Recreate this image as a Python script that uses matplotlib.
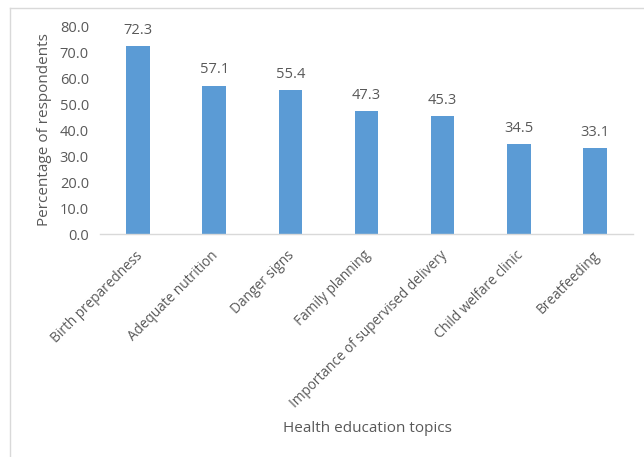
import matplotlib
matplotlib.use("Agg")
import matplotlib.pyplot as plt
from matplotlib.lines import Line2D

# -------------------------------------------------------------
# Data
# -------------------------------------------------------------
topics = [
    "Birth preparedness",
    "Adequate nutrition",
    "Danger signs",
    "Family planning",
    "Importance of supervised delivery",
    "Child welfare clinic",
    "Breatfeeding",
]
percent = [72.3, 57.1, 55.4, 47.3, 45.3, 34.5, 33.1]
y_ticks = [0, 10, 20, 30, 40, 50, 60, 70, 80]

BAR_COLOR  = "#5B9BD5"
TEXT_COLOR = "#595959"
LINE_COLOR = "#D9D9D9"

plt.rcParams["font.family"] = ["Open Sans", "DejaVu Sans"]

W, H = 644, 457
fig = plt.figure(figsize=(W / 100, H / 100), dpi=100)

ax_left, ax_right = 100, 633
ax_top, ax_bottom = 26, 234
ax = fig.add_axes([ax_left / W, 1 - ax_bottom / H,
                   (ax_right - ax_left) / W, (ax_bottom - ax_top) / H])

x = list(range(len(topics)))
bars = ax.bar(x, percent, width=0.31, color=BAR_COLOR, zorder=2)

# value labels above bars
for xi, v in zip(x, percent):
    ax.annotate(f"{v:.1f}", (xi, v), xytext=(0, 6), textcoords="offset points",
                ha="center", va="bottom", fontsize=10.5, color=TEXT_COLOR)

ax.set_xlim(-0.5, 6.5)
ax.set_ylim(0, 80)
ax.set_yticks(y_ticks)
ax.set_yticklabels([f"{t:.1f}" for t in y_ticks], fontsize=10.5, color=TEXT_COLOR)
ax.set_xticks(x)
ax.set_xticklabels([])

# rotated category labels, ending just under each bar
for xi, name in zip(x, topics):
    ax.annotate(name, (xi, 0), xycoords=("data", "axes fraction"),
                xytext=(1.5, -14), textcoords="offset points",
                rotation=45, rotation_mode="anchor", ha="right", va="center",
                fontsize=9.8, color=TEXT_COLOR, annotation_clip=False)

ax.tick_params(axis="both", length=0)
ax.tick_params(axis="y", pad=8)
for side in ["top", "right", "left"]:
    ax.spines[side].set_visible(False)
ax.spines["bottom"].set_color(LINE_COLOR)
ax.spines["bottom"].set_linewidth(1)

fig.text(45 / W, 1 - 130 / H, "Percentage of respondents", rotation=90,
         ha="center", va="center", fontsize=11, color=TEXT_COLOR)
fig.text(367 / W, 1 - 428 / H, "Health education topics",
         ha="center", va="center", fontsize=11, color=TEXT_COLOR)

# chart frame (top and left visible, rest cropped)
fig.add_artist(Line2D([9.5 / W, 1], [1 - 7.5 / H, 1 - 7.5 / H], color=LINE_COLOR, lw=1))
fig.add_artist(Line2D([9.5 / W, 9.5 / W], [0, 1 - 7.5 / H], color=LINE_COLOR, lw=1))

fig.savefig("out.png", dpi=100)
